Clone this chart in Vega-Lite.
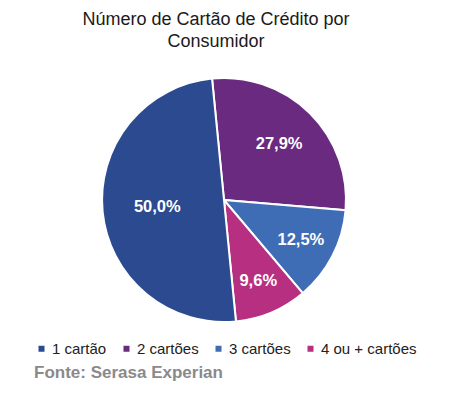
{
  "$schema": "https://vega.github.io/schema/vega-lite/v6.json",
  "autosize": "none",
  "width": 244,
  "height": 244,
  "padding": {"left": 102, "top": 78, "right": 122, "bottom": 76},
  "background": "white",
  "title": {
    "text": ["Número de Cartão de Crédito por", "Consumidor"],
    "font": "Liberation Sans",
    "fontSize": 18,
    "fontWeight": "normal",
    "color": "#1a1a1a",
    "lineHeight": 22,
    "anchor": "middle",
    "dx": -8,
    "offset": 23
  },
  "data": {
    "values": [
      {"categoria": "2 cartões", "valor": 27.9, "rotulo": "27,9%", "ordem": 1},
      {"categoria": "3 cartões", "valor": 12.5, "rotulo": "12,5%", "ordem": 2},
      {"categoria": "4 ou + cartões", "valor": 9.6, "rotulo": "9,6%", "ordem": 3},
      {"categoria": "1 cartão", "valor": 50.0, "rotulo": "50,0%", "ordem": 4}
    ]
  },
  "encoding": {
    "theta": {"field": "valor", "type": "quantitative", "stack": true, "scale": {"range": [-0.098, 6.185]}},
    "order": {"field": "ordem", "type": "quantitative"}
  },
  "layer": [
    {
      "mark": {"type": "arc", "outerRadius": 122, "stroke": "white", "strokeWidth": 2},
      "encoding": {
        "color": {
          "field": "categoria",
          "type": "nominal",
          "scale": {
            "domain": ["1 cartão", "2 cartões", "3 cartões", "4 ou + cartões"],
            "range": ["#2B4A90", "#6A2A80", "#3F6DB5", "#B72F80"]
          },
          "legend": {
            "orient": "none",
            "direction": "horizontal",
            "legendX": -68,
            "legendY": 263,
            "title": "Fonte: Serasa Experian",
            "titleOrient": "bottom",
            "titleAnchor": "start",
            "titleFont": "Liberation Sans",
            "titleFontSize": 17,
            "titleFontWeight": "bold",
            "titleColor": "#8a8a8a",
            "titlePadding": 8,
            "titleLimit": 400,
            "labelFont": "Liberation Sans",
            "labelFontSize": 15,
            "labelColor": "#222222",
            "labelOffset": 3,
            "labelLimit": 300,
            "symbolType": "square",
            "symbolSize": 36,
            "symbolStrokeWidth": 0,
            "columnPadding": 12
          }
        }
      }
    },
    {
      "mark": {"type": "text", "font": "Liberation Sans", "fontSize": 16.5, "fontWeight": "bold", "color": "white"},
      "encoding": {
        "text": {"field": "rotulo", "type": "nominal"},
        "radius": {"field": "valor", "type": "quantitative", "scale": {"type": "linear", "zero": false, "domain": [9.6, 50], "range": [88, 67]}}
      }
    }
  ]
}
